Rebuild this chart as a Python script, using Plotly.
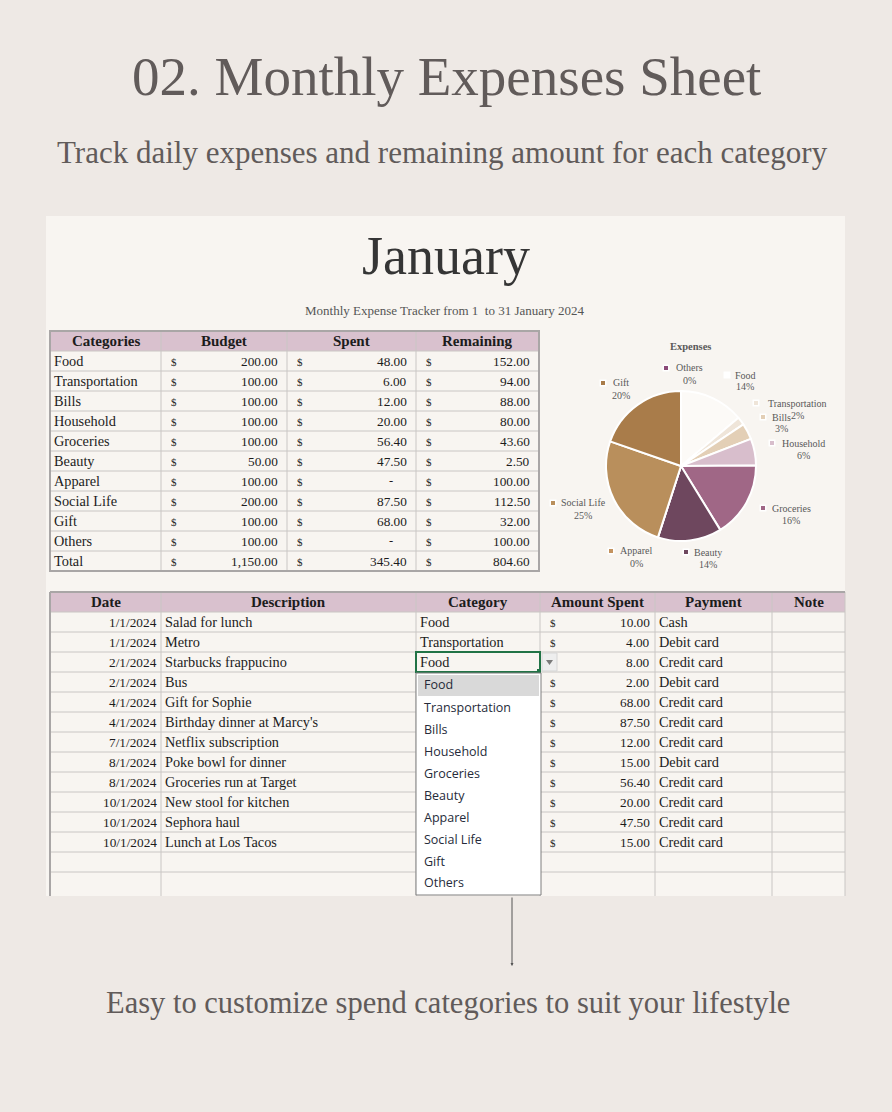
import plotly.graph_objects as go

W, H = 892, 1112

# ---------------- data ----------------
categories = ["Food", "Transportation", "Bills", "Household", "Groceries",
              "Beauty", "Apparel", "Social Life", "Gift", "Others"]
budget = [200.00, 100.00, 100.00, 100.00, 100.00, 50.00, 100.00, 200.00, 100.00, 100.00]
spent = [48.00, 6.00, 12.00, 20.00, 56.40, 47.50, 0.00, 87.50, 68.00, 0.00]
remaining = [152.00, 94.00, 88.00, 80.00, 43.60, 2.50, 100.00, 112.50, 32.00, 100.00]
total_label = "Total"
total_budget, total_spent, total_remaining = 1150.00, 345.40, 804.60
summary_headers = ["Categories", "Budget", "Spent", "Remaining"]

log_headers = ["Date", "Description", "Category", "Amount Spent", "Payment", "Note"]
log_dates = ["1/1/2024", "1/1/2024", "2/1/2024", "2/1/2024", "4/1/2024", "4/1/2024",
             "7/1/2024", "8/1/2024", "8/1/2024", "10/1/2024", "10/1/2024", "10/1/2024"]
log_desc = ["Salad for lunch", "Metro", "Starbucks frappucino", "Bus", "Gift for Sophie",
            "Birthday dinner at Marcy's", "Netflix subscription", "Poke bowl for dinner",
            "Groceries run at Target", "New stool for kitchen", "Sephora haul", "Lunch at Los Tacos"]
log_cat = ["Food", "Transportation", "Food", "Transportation", "Gift", "Social Life",
           "Bills", "Food", "Groceries", "Household", "Beauty", "Food"]
log_amount = [10.00, 4.00, 8.00, 2.00, 68.00, 87.50, 12.00, 15.00, 56.40, 20.00, 47.50, 15.00]
log_payment = ["Cash", "Debit card", "Credit card", "Debit card", "Credit card", "Credit card",
               "Credit card", "Debit card", "Credit card", "Credit card", "Credit card", "Credit card"]
dropdown_options = categories

pie_title = "Expenses"
pie_colors = ["#FCFAF7", "#EFE5D9", "#E3CFB6", "#D8BECC", "#A06786",
              "#6E475E", "#C4935F", "#B98F5C", "#A97C4A", "#8B4A78"]

page_title = "02. Monthly Expenses Sheet"
page_sub = "Track daily expenses and remaining amount for each category"
month_title = "January"
month_sub = "Monthly Expense Tracker from 1&nbsp; to 31 January 2024"
footer = "Easy to customize spend categories to suit your lifestyle"

# ---------------- layout helpers (pixel -> paper) ----------------
def X(x):
    return x / W

def Y(y):
    return 1 - y / H

shapes, ann = [], []

def rect(x0, y0, x1, y1, fill=None, line=None, lw=1, layer="below"):
    shapes.append(dict(type="rect", xref="paper", yref="paper",
                       x0=X(x0), x1=X(x1), y0=Y(y1), y1=Y(y0),
                       fillcolor=fill or "rgba(0,0,0,0)",
                       line=dict(color=line or "rgba(0,0,0,0)", width=lw if line else 0),
                       layer=layer))

def hline(x0, x1, y, color, w=1):
    shapes.append(dict(type="line", xref="paper", yref="paper", x0=X(x0), x1=X(x1),
                       y0=Y(y), y1=Y(y), line=dict(color=color, width=w), layer="below"))

def vline(x, y0, y1, color, w=1):
    shapes.append(dict(type="line", xref="paper", yref="paper", x0=X(x), x1=X(x),
                       y0=Y(y0), y1=Y(y1), line=dict(color=color, width=w), layer="below"))

def text(x, y, s, size, color="#1a1a1a", family="Liberation Serif", xanchor="center"):
    ann.append(dict(xref="paper", yref="paper", x=X(x), y=Y(y), text=s, showarrow=False,
                    font=dict(size=size, color=color, family=family),
                    xanchor=xanchor, yanchor="middle", borderpad=0))

def money(v):
    return "-" if v == 0 else f"{v:,.2f}"

SERIF = "Liberation Serif"
BG = "#EEE9E5"
CARD = "#F8F5F1"
HEAD = "#D9C1CE"
GRID = "#C9C6C4"
BORDER = "#A9A6A6"
INK = "#1c1c1c"
TXT = 14.3
NUM = 13.3

# ---------------- page titles ----------------
text(446, 76, page_title, 55, "#615b5a", SERIF)
text(442, 152, page_sub, 31, "#615b5a", SERIF)
text(448, 1003, footer, 30.5, "#615b5a", SERIF)

# card
rect(46, 216, 845, 896, fill=CARD)
text(446, 256, month_title, 54, "#353535", SERIF)
text(445, 311, month_sub, 13, "#555555", SERIF)

# ---------------- summary table ----------------
t_edges = [50, 161, 287, 416, 539]
t_top, rh = 331, 20
n_rows = len(categories) + 1
t_bot = t_top + rh * (n_rows + 1)
rect(t_edges[0], t_top, t_edges[-1], t_top + rh, fill=HEAD)
for i in range(1, n_rows + 1):
    hline(t_edges[0], t_edges[-1], t_top + rh * i, GRID)
for xe in t_edges[1:-1]:
    vline(xe, t_top, t_bot, GRID)
rect(t_edges[0], t_top, t_edges[-1], t_bot, line=BORDER, lw=2)
for j, hdr in enumerate(summary_headers):
    text((t_edges[j] + t_edges[j + 1]) / 2, t_top + rh / 2, f"<b>{hdr}</b>", 15, INK, SERIF)

rows = list(zip(categories, budget, spent, remaining)) + \
       [(total_label, total_budget, total_spent, total_remaining)]
for i, (cat, b, s, r) in enumerate(rows):
    yc = t_top + rh * (i + 1) + rh / 2
    text(t_edges[0] + 3, yc, cat, TXT, INK, SERIF, "left")
    for j, v in enumerate([b, s, r]):
        x0, x1 = t_edges[j + 1], t_edges[j + 2]
        text(x0 + 9, yc + 1, "$", 11, INK, SERIF, "left")
        if v == 0:
            text(x1 - 22, yc, "-", 12.5, INK, SERIF, "right")
        else:
            text(x1 - 8, yc, money(v), NUM, INK, SERIF, "right")

# ---------------- pie chart ----------------
total_sp = sum(spent)
pie = go.Pie(values=spent, labels=categories, sort=False, direction="clockwise",
             rotation=0, textinfo="none", hoverinfo="label+value+percent",
             marker=dict(colors=pie_colors, line=dict(color="white", width=2)),
             domain=dict(x=[X(606), X(756)], y=[Y(541), Y(391)]), showlegend=False)

text(690, 347, f"<b>{pie_title}</b>", 10.5, "#595959", SERIF)
# label anchor layout: (marker x, text centre x, first line y)
pie_label_pos = [(727, 745, 375), (756, 797, 403), (763, 781, 417), (772, 803, 443),
                 (763, 791, 508), (686, 708, 552), (611, 636, 551), (553, 583, 503),
                 (603, 621, 383), (666, 689, 368)]
for cat, v, col, (mx, cx, yy) in zip(categories, spent, pie_colors, pie_label_pos):
    pct = round(v / total_sp * 100)
    rect(mx - 3.5, yy - 3.5, mx + 3.5, yy + 3.5, fill="white")
    rect(mx - 2, yy - 2, mx + 2, yy + 2, fill=col if cat != "Food" else "#FFFFFF")
    text(cx, yy, cat, 10, "#595959", SERIF)
    text(cx, yy + 12, f"{pct}%", 10, "#595959", SERIF)

# ---------------- expense log ----------------
b_edges = [50, 161, 416, 540, 655, 772, 845]
b_top = 592
b_rows = len(log_dates) + 2
b_bot = 896
rect(b_edges[0], b_top, b_edges[-1], b_top + rh, fill=HEAD)
for i in range(1, b_rows + 1):
    hline(b_edges[0], b_edges[-1], b_top + rh * i, GRID)
for xe in b_edges[1:-1]:
    vline(xe, b_top, b_bot, GRID)
vline(b_edges[0], b_top, b_bot, BORDER, 2)
vline(b_edges[-1], b_top, b_bot, GRID, 1)
hline(b_edges[0], b_edges[-1], b_top, BORDER, 2)
for j, hdr in enumerate(log_headers):
    text((b_edges[j] + b_edges[j + 1]) / 2, b_top + rh / 2, f"<b>{hdr}</b>", 15, INK, SERIF)

sel_row = 2
dd_top = b_top + rh * 4 + 1
for i in range(len(log_dates)):
    yc = b_top + rh * (i + 1) + rh / 2
    text(b_edges[1] - 3, yc, log_dates[i], NUM, INK, SERIF, "right")
    text(b_edges[1] + 3, yc, log_desc[i], TXT, INK, SERIF, "left")
    if yc < dd_top:
        text(b_edges[2] + 3, yc, log_cat[i], TXT, INK, SERIF, "left")
    if i != sel_row:
        text(b_edges[3] + 9, yc + 1, "$", 11, INK, SERIF, "left")
    text(b_edges[4] - 4, yc, money(log_amount[i]), NUM, INK, SERIF, "right")
    text(b_edges[4] + 3, yc, log_payment[i], TXT, INK, SERIF, "left")

# selected cell + dropdown
sy0 = b_top + rh * (sel_row + 1)
rect(b_edges[2], sy0, b_edges[3], sy0 + rh, line="#217346", lw=2, layer="above")
rect(b_edges[3] - 3, sy0 + rh - 3, b_edges[3] + 1, sy0 + rh + 1, fill="#217346", layer="above")
rect(b_edges[3] + 2, sy0 + 1, b_edges[3] + 17, sy0 + rh - 1, fill="#EEEEEE", line="#D6D6D6", lw=1)
shapes.append(dict(type="path", xref="paper", yref="paper",
                   path=f"M {X(b_edges[3]+6)},{Y(sy0+8)} L {X(b_edges[3]+13)},{Y(sy0+8)} L {X(b_edges[3]+9.5)},{Y(sy0+13)} Z",
                   fillcolor="#7a7a7a", line=dict(width=0), layer="above"))

item_h = 22
rect(b_edges[2], dd_top, b_edges[3] + 1, b_bot - 1, fill="white", line="#7f7f7f", lw=1, layer="above")
rect(b_edges[2] + 2, dd_top + 2, b_edges[3] - 1, dd_top + 2 + item_h - 1, fill="#D9D9D9", layer="above")
for k, opt in enumerate(dropdown_options):
    text(b_edges[2] + 7, dd_top + 12 + item_h * k, opt, 12.5, "#262b3a", "Open Sans", "left")

# arrow to footer
ann.append(dict(xref="paper", yref="paper", x=X(512), y=Y(966), ax=0, ay=-70,
                text="", showarrow=True, arrowhead=2, arrowsize=0.6, arrowwidth=1,
                arrowcolor="#555555"))

fig = go.Figure(pie)
fig.update_layout(width=W, height=H, margin=dict(l=0, r=0, t=0, b=0),
                  paper_bgcolor=BG, plot_bgcolor=BG, shapes=shapes, annotations=ann,
                  showlegend=False)
fig.write_html("out.html", config={"displayModeBar": False},
               post_script="document.body.style.margin='0';document.body.style.background='#EEE9E5';")
